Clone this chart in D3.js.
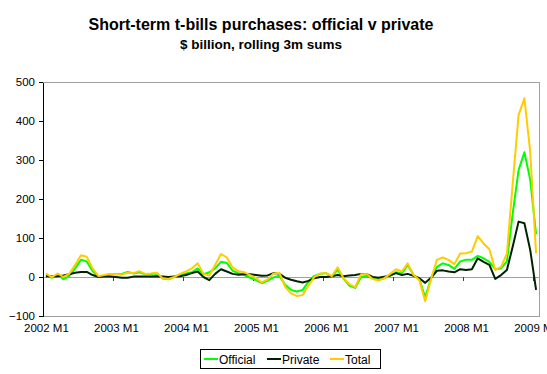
<!DOCTYPE html>
<html>
<head>
<meta charset="utf-8">
<script src="https://cdn.jsdelivr.net/npm/d3@7"></script>
<style>
  html, body { margin: 0; padding: 0; background: #fff; }
  svg { display: block; font-family: "Liberation Sans", Arial, sans-serif; }
</style>
</head>
<body>
<svg id="chart" width="547" height="374"></svg>
<script>
// ---- Data (monthly, 2002 M1 .. 2009 M1) ----
const years = [2002, 2003, 2004, 2005, 2006, 2007, 2008, 2009];
const tickLabels = ["2002 M1", "2003 M1", "2004 M1", "2005 M1", "2006 M1", "2007 M1", "2008 M1", "2009 M1"];
const yTicks = [-100, 0, 100, 200, 300, 400, 500];
const seriesNames = ["Official", "Private", "Total"];

const official = [
  7, -2, 7, -6, 2, 22, 44, 40, 15, 0, 3, 7,
  7, 8, 13, 9, 12, 7, 8, 9, -4, -6, 0, 6,
  9, 12, 22, 7, 12, 22, 39, 36, 16, 10, 5, -2,
  -8, -16, -9, -1, 3, -20, -33, -37, -33, -12, 3, 8,
  10, 1, 19, -4, -22, -28, 0, 2, -3, -7, -3, 3,
  12, 9, 31, 5, -6, -52, -3, 26, 35, 31, 21, 40,
  44, 44, 54, 48, 39, 20, 22, 40, 163, 274, 320, 249,
  110
];
const privateVals = [
  2, 1, 2, 4, 7, 11, 13, 13, 5, 0, 1, 1,
  0, -2, -2, 1, 1, 1, 1, 2, 1, 0, 1, 2,
  5, 10, 14, 0, -8, 8, 20, 14, 8, 6, 7, 7,
  5, 3, 4, 10, 9, -2, -7, -11, -14, -10, -3, 0,
  0, 2, 5, 2, 4, 5, 8, 7, 0, -2, 1, 4,
  10, 5, 8, 3, -3, -15, -2, 16, 17, 14, 12, 20,
  18, 20, 48, 39, 31, -5, 5, 18, 78, 142, 138, 69,
  -33
];
const total = [
  9, -1, 9, 0, 8, 31, 56, 52, 22, 2, 5, 8,
  7, 6, 11, 10, 15, 8, 9, 11, -3, -5, 0, 8,
  14, 22, 35, 8, 4, 31, 59, 50, 24, 15, 12, 5,
  -3, -14, -6, 9, 11, -25, -42, -49, -46, -22, 0, 9,
  10, 2, 25, -3, -18, -26, 7, 8, -5, -9, -3, 8,
  20, 14, 35, 5, -8, -62, -5, 44, 50, 44, 33, 60,
  61, 65, 105, 86, 71, 18, 26, 60, 240, 415, 458, 320,
  61
];

// category labels "YYYY Mm"
const categories = [];
years.forEach(yr => { for (let m = 1; m <= 12; m++) categories.push(yr + " M" + m); });
categories.length = official.length;

const colors = { Official: "#00ff00", Private: "#002200", Total: "#ffcc00" };

// ---- Layout ----
const svg = d3.select("#chart");
const W = 547, H = 374;
const plot = { left: 43, right: 539, top: 82, bottom: 316 };

svg.append("rect").attr("width", W).attr("height", H).attr("fill", "#fff");

// Titles
svg.append("text").attr("x", 261).attr("y", 30).attr("text-anchor", "middle")
  .attr("font-size", 16).attr("font-weight", "bold").attr("fill", "#000")
  .text("Short-term t-bills purchases: official v private");
svg.append("text").attr("x", 261).attr("y", 49).attr("text-anchor", "middle")
  .attr("font-size", 13.5).attr("font-weight", "bold").attr("fill", "#000")
  .text("$ billion, rolling 3m sums");

// Scales
const idx = d3.range(categories.length);
const x = d3.scalePoint().domain(idx).range([plot.left, plot.right]).padding(0.5);
const xBound = d3.scaleLinear().domain([0, categories.length]).range([plot.left, plot.right]);
const y = d3.scaleLinear().domain([-100, 500]).range([plot.bottom, plot.top]);

// Plot area border (gray)
svg.append("rect")
  .attr("x", plot.left).attr("y", plot.top)
  .attr("width", plot.right - plot.left).attr("height", plot.bottom - plot.top)
  .attr("fill", "none").attr("stroke", "#a0a0a0").attr("stroke-width", 1)
  .attr("shape-rendering", "crispEdges");

// Zero (category) axis with tick marks at year boundaries
const zeroAxis = d3.axisBottom(xBound)
  .tickValues(d3.range(12, categories.length + 1, 12))
  .tickFormat("").tickSize(4).tickSizeOuter(0);
const gz = svg.append("g").attr("transform", `translate(0,${y(0)})`).call(zeroAxis);
gz.select(".domain").attr("stroke", "#a0a0a0");
gz.selectAll(".tick line").attr("stroke", "#404040");
gz.selectAll("*").attr("shape-rendering", "crispEdges");

// Category labels at the bottom
const labelAxis = d3.axisBottom(x)
  .tickValues(d3.range(0, categories.length, 12))
  .tickFormat(i => categories[i]).tickSize(0).tickPadding(8);
const gl = svg.append("g").attr("transform", `translate(0,${plot.bottom})`).call(labelAxis);
gl.select(".domain").remove();
gl.selectAll("text").attr("font-size", 11.5).attr("fill", "#000")
  .attr("font-family", "Liberation Sans, Arial, sans-serif");

// Y axis
const yAxis = d3.axisLeft(y).tickValues(yTicks).tickSize(4).tickPadding(4).tickSizeOuter(0);
const gy = svg.append("g").attr("transform", `translate(${plot.left},0)`).call(yAxis);
gy.select(".domain").attr("stroke", "#000");
gy.selectAll(".tick line").attr("stroke", "#000");
gy.selectAll("*").attr("shape-rendering", "crispEdges");
gy.selectAll("text").attr("font-size", 11.5).attr("fill", "#000")
  .attr("font-family", "Liberation Sans, Arial, sans-serif");

// Lines
const line = d3.line().x((d, i) => x(i)).y(d => y(d));
const seriesData = [
  { name: "Official", values: official },
  { name: "Private", values: privateVals },
  { name: "Total", values: total }
];
seriesData.forEach(s => {
  svg.append("path").datum(s.values)
    .attr("d", line).attr("fill", "none")
    .attr("stroke", colors[s.name]).attr("stroke-width", 2)
    .attr("stroke-linejoin", "round");
});

// Legend
const lg = svg.append("g");
lg.append("rect").attr("x", 200.5).attr("y", 349.5).attr("width", 180).attr("height", 19)
  .attr("fill", "#fff").attr("stroke", "#000").attr("stroke-width", 1);
const legendItems = [
  { name: "Official", x: 204 },
  { name: "Private", x: 267 },
  { name: "Total", x: 330 }
];
legendItems.forEach(it => {
  lg.append("line").attr("x1", it.x).attr("x2", it.x + 14).attr("y1", 359).attr("y2", 359)
    .attr("stroke", colors[it.name]).attr("stroke-width", 2);
  lg.append("text").attr("x", it.x + 15).attr("y", 363.5).attr("font-size", 12)
    .attr("fill", "#000").text(it.name);
});
</script>
</body>
</html>
